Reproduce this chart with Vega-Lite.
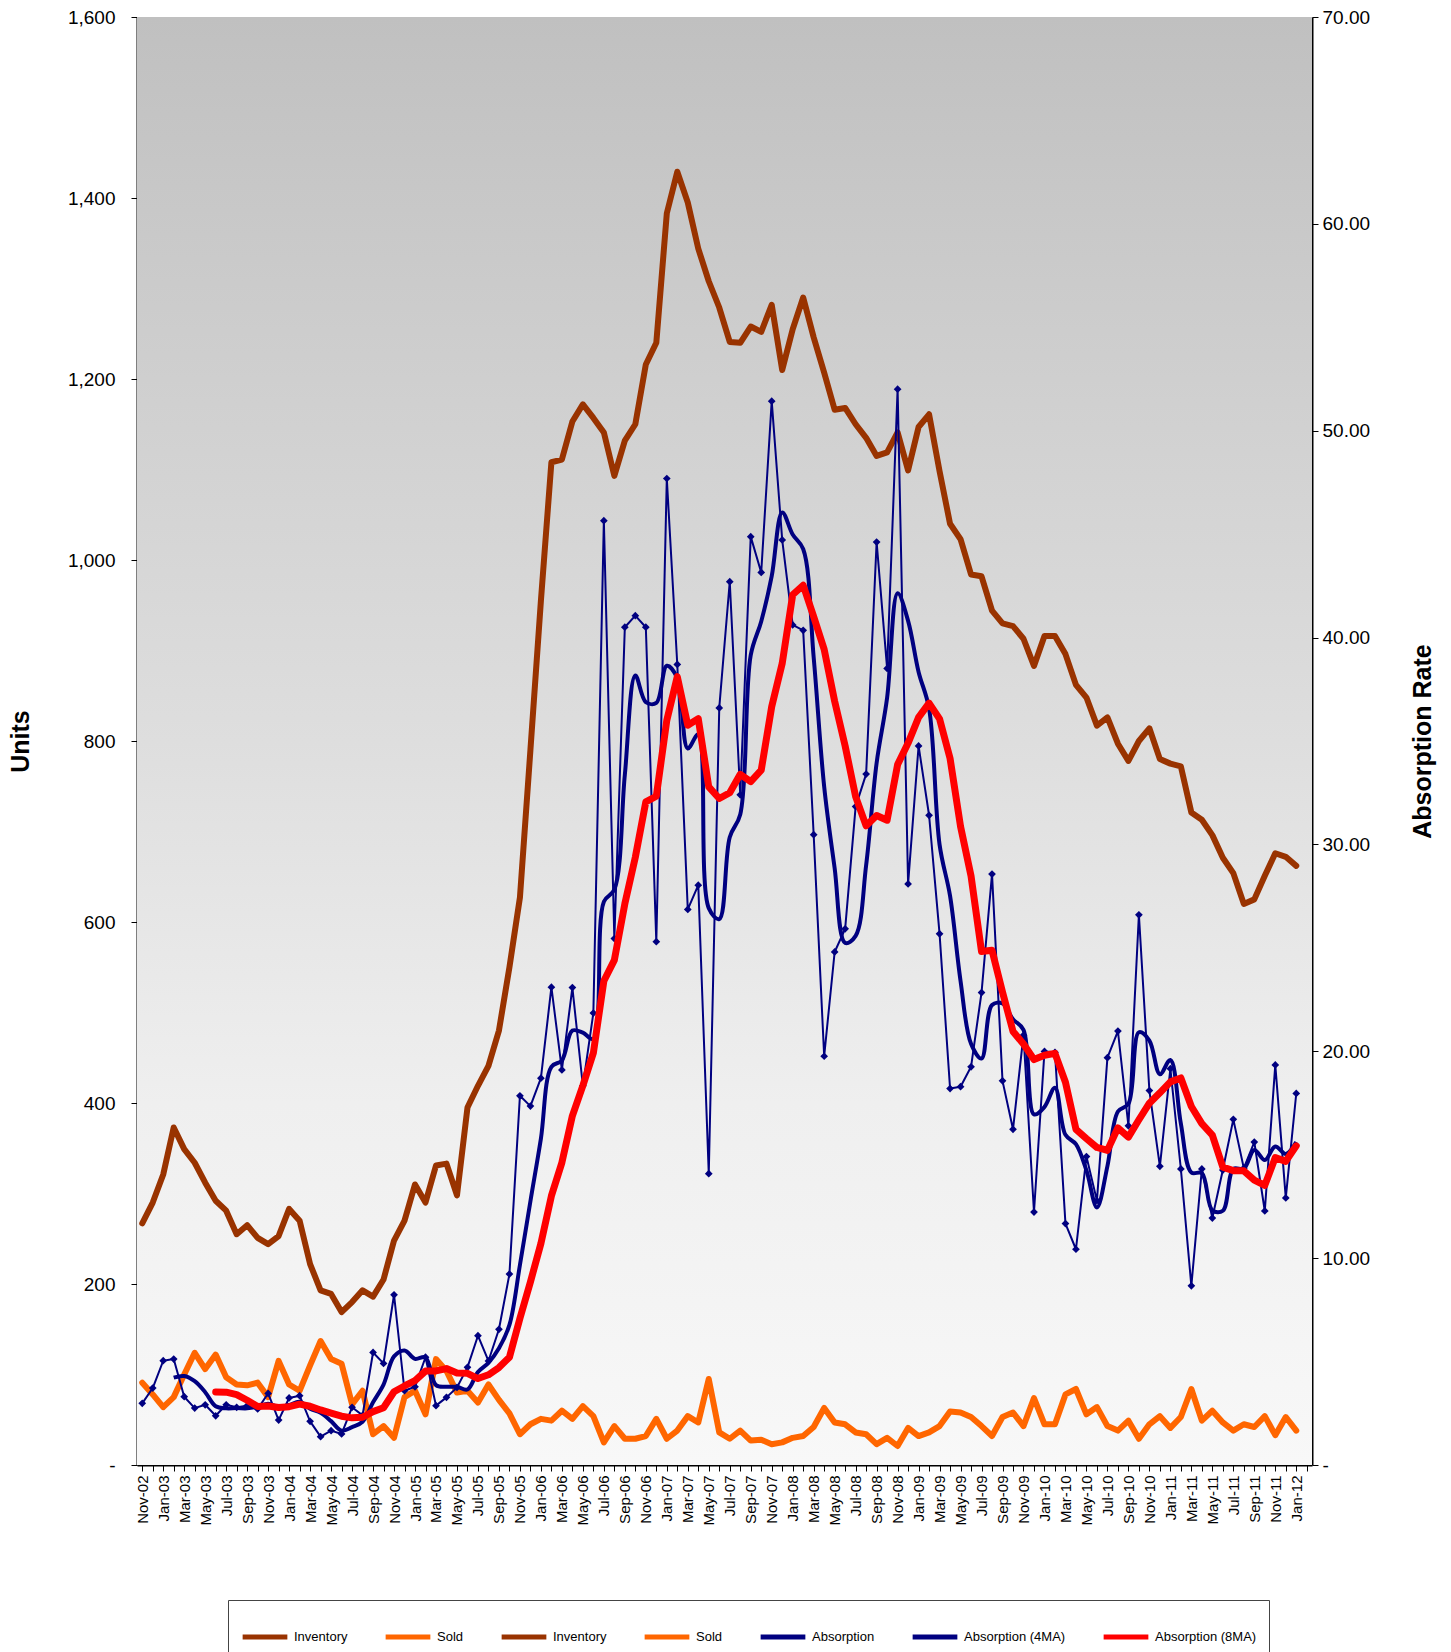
{
"$schema":"https://vega.github.io/schema/vega-lite/v6.json",
"width":1175,"height":1448,
"autosize":{"type":"none"},
"padding":{"left":137,"top":17,"right":139,"bottom":187},
"background":"white",
"config":{"font":"Liberation Sans","view":{"stroke":null},"axis":{"labelColor":"black","titleColor":"black","domainColor":"black","tickColor":"black","grid":false,"labelFont":"Liberation Sans","titleFont":"Liberation Sans"}},
"datasets":{"main":[
{"m":"Nov-02","inv":267,"sold":91,"abs":2.98},
{"m":"Dec-02","inv":290,"sold":78,"abs":3.72},
{"m":"Jan-03","inv":321,"sold":64,"abs":5.04},
{"m":"Feb-03","inv":373,"sold":75,"abs":5.12,"ma4":4.22},
{"m":"Mar-03","inv":349,"sold":100,"abs":3.30,"ma4":4.30},
{"m":"Apr-03","inv":334,"sold":124,"abs":2.75,"ma4":4.05},
{"m":"May-03","inv":312,"sold":106,"abs":2.91,"ma4":3.52},
{"m":"Jun-03","inv":292,"sold":122,"abs":2.38,"ma4":2.84,"ma8":3.53},
{"m":"Jul-03","inv":281,"sold":97,"abs":2.91,"ma4":2.74,"ma8":3.52},
{"m":"Aug-03","inv":255,"sold":89,"abs":2.79,"ma4":2.75,"ma8":3.40},
{"m":"Sep-03","inv":265,"sold":88,"abs":2.87,"ma4":2.74,"ma8":3.13},
{"m":"Oct-03","inv":251,"sold":91,"abs":2.71,"ma4":2.82,"ma8":2.83},
{"m":"Nov-03","inv":244,"sold":75,"abs":3.46,"ma4":2.96,"ma8":2.85},
{"m":"Dec-03","inv":253,"sold":115,"abs":2.17,"ma4":2.80,"ma8":2.78},
{"m":"Jan-04","inv":283,"sold":89,"abs":3.24,"ma4":2.90,"ma8":2.82},
{"m":"Feb-04","inv":270,"sold":82,"abs":3.35,"ma4":3.06,"ma8":2.94},
{"m":"Mar-04","inv":222,"sold":110,"abs":2.11,"ma4":2.72,"ma8":2.84},
{"m":"Apr-04","inv":193,"sold":137,"abs":1.37,"ma4":2.52,"ma8":2.66},
{"m":"May-04","inv":189,"sold":117,"abs":1.66,"ma4":2.12,"ma8":2.51},
{"m":"Jun-04","inv":169,"sold":112,"abs":1.50,"ma4":1.66,"ma8":2.36},
{"m":"Jul-04","inv":180,"sold":67,"abs":2.79,"ma4":1.83,"ma8":2.28},
{"m":"Aug-04","inv":193,"sold":82,"abs":2.40,"ma4":2.09,"ma8":2.31},
{"m":"Sep-04","inv":186,"sold":34,"abs":5.44,"ma4":3.03,"ma8":2.58},
{"m":"Oct-04","inv":205,"sold":43,"abs":4.91,"ma4":3.89,"ma8":2.77},
{"m":"Nov-04","inv":248,"sold":30,"abs":8.23,"ma4":5.25,"ma8":3.54},
{"m":"Dec-04","inv":270,"sold":75,"abs":3.59,"ma4":5.54,"ma8":3.82},
{"m":"Jan-05","inv":310,"sold":82,"abs":3.78,"ma4":5.13,"ma8":4.08},
{"m":"Feb-05","inv":290,"sold":56,"abs":5.21,"ma4":5.20,"ma8":4.54},
{"m":"Mar-05","inv":331,"sold":117,"abs":2.87,"ma4":3.86,"ma8":4.55},
{"m":"Apr-05","inv":333,"sold":104,"abs":3.27,"ma4":3.78,"ma8":4.66},
{"m":"May-05","inv":298,"sold":80,"abs":3.75,"ma4":3.78,"ma8":4.45},
{"m":"Jun-05","inv":395,"sold":82,"abs":4.72,"ma4":3.65,"ma8":4.43},
{"m":"Jul-05","inv":419,"sold":69,"abs":6.25,"ma4":4.50,"ma8":4.18},
{"m":"Aug-05","inv":441,"sold":89,"abs":5.03,"ma4":4.94,"ma8":4.36},
{"m":"Sep-05","inv":480,"sold":72,"abs":6.56,"ma4":5.64,"ma8":4.71},
{"m":"Oct-05","inv":550,"sold":57,"abs":9.23,"ma4":6.77,"ma8":5.21},
{"m":"Nov-05","inv":627,"sold":34,"abs":17.85,"ma4":9.67,"ma8":7.09},
{"m":"Dec-05","inv":790,"sold":45,"abs":17.35,"ma4":12.75,"ma8":8.85},
{"m":"Jan-06","inv":955,"sold":51,"abs":18.70,"ma4":15.78,"ma8":10.71},
{"m":"Feb-06","inv":1108,"sold":49,"abs":23.10,"ma4":19.25,"ma8":13.01},
{"m":"Mar-06","inv":1111,"sold":60,"abs":19.10,"ma4":19.56,"ma8":14.62},
{"m":"Apr-06","inv":1153,"sold":51,"abs":23.08,"ma4":21.00,"ma8":16.88},
{"m":"May-06","inv":1172,"sold":65,"abs":18.33,"ma4":20.90,"ma8":18.34},
{"m":"Jun-06","inv":1157,"sold":54,"abs":21.85,"ma4":20.59,"ma8":19.92},
{"m":"Jul-06","inv":1141,"sold":25,"abs":45.65,"ma4":27.23,"ma8":23.40},
{"m":"Aug-06","inv":1093,"sold":43,"abs":25.45,"ma4":27.82,"ma8":24.41},
{"m":"Sep-06","inv":1132,"sold":29,"abs":40.50,"ma4":33.36,"ma8":27.13},
{"m":"Oct-06","inv":1150,"sold":29,"abs":41.06,"ma4":38.17,"ma8":29.38},
{"m":"Nov-06","inv":1216,"sold":32,"abs":40.50,"ma4":36.88,"ma8":32.06},
{"m":"Dec-06","inv":1240,"sold":51,"abs":25.30,"ma4":36.84,"ma8":32.33},
{"m":"Jan-07","inv":1383,"sold":29,"abs":47.69,"ma4":38.64,"ma8":36.00},
{"m":"Feb-07","inv":1429,"sold":38,"abs":38.70,"ma4":38.05,"ma8":38.11},
{"m":"Mar-07","inv":1395,"sold":54,"abs":26.86,"ma4":34.64,"ma8":35.76},
{"m":"Apr-07","inv":1344,"sold":47,"abs":28.03,"ma4":35.32,"ma8":36.08},
{"m":"May-07","inv":1308,"sold":95,"abs":14.08,"ma4":26.92,"ma8":32.78},
{"m":"Jun-07","inv":1279,"sold":36,"abs":36.60,"ma4":26.39,"ma8":32.22},
{"m":"Jul-07","inv":1241,"sold":29,"abs":42.70,"ma4":30.35,"ma8":32.50},
{"m":"Aug-07","inv":1240,"sold":38,"abs":32.40,"ma4":31.45,"ma8":33.39},
{"m":"Sep-07","inv":1258,"sold":27,"abs":44.88,"ma4":39.15,"ma8":33.04},
{"m":"Oct-07","inv":1252,"sold":28,"abs":43.15,"ma4":40.78,"ma8":33.59},
{"m":"Nov-07","inv":1282,"sold":23,"abs":51.43,"ma4":42.97,"ma8":36.66},
{"m":"Dec-07","inv":1210,"sold":25,"abs":44.72,"ma4":46.05,"ma8":38.75},
{"m":"Jan-08","inv":1255,"sold":30,"abs":40.61,"ma4":44.98,"ma8":42.07},
{"m":"Feb-08","inv":1290,"sold":32,"abs":40.35,"ma4":44.28,"ma8":42.53},
{"m":"Mar-08","inv":1246,"sold":42,"abs":30.47,"ma4":39.04,"ma8":41.01},
{"m":"Apr-08","inv":1207,"sold":63,"abs":19.76,"ma4":32.80,"ma8":39.43},
{"m":"May-08","inv":1166,"sold":47,"abs":24.80,"ma4":28.85,"ma8":36.92},
{"m":"Jun-08","inv":1168,"sold":45,"abs":25.92,"ma4":25.24,"ma8":34.76},
{"m":"Jul-08","inv":1150,"sold":36,"abs":31.83,"ma4":25.58,"ma8":32.31},
{"m":"Aug-08","inv":1135,"sold":34,"abs":33.40,"ma4":28.99,"ma8":30.90},
{"m":"Sep-08","inv":1115,"sold":23,"abs":44.62,"ma4":33.94,"ma8":31.40},
{"m":"Oct-08","inv":1119,"sold":30,"abs":38.51,"ma4":37.09,"ma8":31.17},
{"m":"Nov-08","inv":1141,"sold":21,"abs":52.01,"ma4":42.14,"ma8":33.86},
{"m":"Dec-08","inv":1099,"sold":41,"abs":28.09,"ma4":40.81,"ma8":34.90},
{"m":"Jan-09","inv":1147,"sold":32,"abs":34.76,"ma4":38.34,"ma8":36.14},
{"m":"Feb-09","inv":1161,"sold":36,"abs":31.41,"ma4":36.57,"ma8":36.83},
{"m":"Mar-09","inv":1098,"sold":43,"abs":25.68,"ma4":29.99,"ma8":36.07},
{"m":"Apr-09","inv":1040,"sold":59,"abs":18.20,"ma4":27.51,"ma8":34.16},
{"m":"May-09","inv":1023,"sold":58,"abs":18.29,"ma4":23.40,"ma8":30.87},
{"m":"Jun-09","inv":984,"sold":53,"abs":19.25,"ma4":20.36,"ma8":28.47},
{"m":"Jul-09","inv":982,"sold":43,"abs":22.84,"ma4":19.65,"ma8":24.82},
{"m":"Aug-09","inv":944,"sold":32,"abs":28.57,"ma4":22.24,"ma8":24.88},
{"m":"Sep-09","inv":930,"sold":53,"abs":18.57,"ma4":22.31,"ma8":22.86},
{"m":"Oct-09","inv":927,"sold":58,"abs":16.23,"ma4":21.55,"ma8":20.96},
{"m":"Nov-09","inv":913,"sold":43,"abs":20.78,"ma4":21.04,"ma8":20.35},
{"m":"Dec-09","inv":883,"sold":74,"abs":12.23,"ma4":16.95,"ma8":19.60},
{"m":"Jan-10","inv":916,"sold":45,"abs":19.99,"ma4":17.31,"ma8":19.81},
{"m":"Feb-10","inv":916,"sold":45,"abs":19.95,"ma4":18.24,"ma8":19.90},
{"m":"Mar-10","inv":896,"sold":78,"abs":11.67,"ma4":15.96,"ma8":18.50},
{"m":"Apr-10","inv":862,"sold":84,"abs":10.43,"ma4":15.51,"ma8":16.23},
{"m":"May-10","inv":848,"sold":56,"abs":14.91,"ma4":14.24,"ma8":15.78},
{"m":"Jun-10","inv":817,"sold":64,"abs":12.78,"ma4":12.45,"ma8":15.35},
{"m":"Jul-10","inv":826,"sold":43,"abs":19.69,"ma4":14.45,"ma8":15.21},
{"m":"Aug-10","inv":797,"sold":38,"abs":20.98,"ma4":17.09,"ma8":16.30},
{"m":"Sep-10","inv":778,"sold":49,"abs":16.40,"ma4":17.46,"ma8":15.85},
{"m":"Oct-10","inv":800,"sold":29,"abs":26.60,"ma4":20.92,"ma8":16.69},
{"m":"Nov-10","inv":814,"sold":45,"abs":18.10,"ma4":20.52,"ma8":17.49},
{"m":"Dec-10","inv":780,"sold":54,"abs":14.44,"ma4":18.89,"ma8":17.99},
{"m":"Jan-11","inv":775,"sold":41,"abs":19.16,"ma4":19.58,"ma8":18.52},
{"m":"Feb-11","inv":772,"sold":53,"abs":14.31,"ma4":16.50,"ma8":18.71},
{"m":"Mar-11","inv":721,"sold":84,"abs":8.66,"ma4":14.14,"ma8":17.33},
{"m":"Apr-11","inv":713,"sold":49,"abs":14.31,"ma4":14.11,"ma8":16.50},
{"m":"May-11","inv":696,"sold":60,"abs":11.94,"ma4":12.31,"ma8":15.95},
{"m":"Jun-11","inv":671,"sold":47,"abs":14.26,"ma4":12.29,"ma8":14.40},
{"m":"Jul-11","inv":654,"sold":38,"abs":16.71,"ma4":14.31,"ma8":14.23},
{"m":"Aug-11","inv":620,"sold":45,"abs":14.35,"ma4":14.32,"ma8":14.22},
{"m":"Sep-11","inv":625,"sold":42,"abs":15.61,"ma4":15.23,"ma8":13.77},
{"m":"Oct-11","inv":651,"sold":54,"abs":12.28,"ma4":14.74,"ma8":13.52},
{"m":"Nov-11","inv":676,"sold":33,"abs":19.34,"ma4":15.40,"ma8":14.86},
{"m":"Dec-11","inv":672,"sold":53,"abs":12.91,"ma4":15.04,"ma8":14.68},
{"m":"Jan-12","inv":662,"sold":38,"abs":17.96,"ma4":15.62,"ma8":15.43}
]},
"layer":[
{"data":{"values":[{}]},
 "mark":{"type":"rect","fill":{"gradient":"linear","x1":0,"y1":0,"x2":0,"y2":1,"stops":[{"offset":0,"color":"#c0c0c0"},{"offset":0.5,"color":"#dedede"},{"offset":0.75,"color":"#efefef"},{"offset":1,"color":"#f8f8f8"}]}},
 "encoding":{"y":{"datum":1600,"type":"quantitative","scale":{"domain":[0,1600]},"axis":null},"y2":{"datum":0}}},
{"data":{"name":"main"},
 "encoding":{"x":{"field":"m","type":"ordinal","sort":null,
   "scale":{"type":"point","padding":0.5,"domain":["Nov-02","Dec-02","Jan-03","Feb-03","Mar-03","Apr-03","May-03","Jun-03","Jul-03","Aug-03","Sep-03","Oct-03","Nov-03","Dec-03","Jan-04","Feb-04","Mar-04","Apr-04","May-04","Jun-04","Jul-04","Aug-04","Sep-04","Oct-04","Nov-04","Dec-04","Jan-05","Feb-05","Mar-05","Apr-05","May-05","Jun-05","Jul-05","Aug-05","Sep-05","Oct-05","Nov-05","Dec-05","Jan-06","Feb-06","Mar-06","Apr-06","May-06","Jun-06","Jul-06","Aug-06","Sep-06","Oct-06","Nov-06","Dec-06","Jan-07","Feb-07","Mar-07","Apr-07","May-07","Jun-07","Jul-07","Aug-07","Sep-07","Oct-07","Nov-07","Dec-07","Jan-08","Feb-08","Mar-08","Apr-08","May-08","Jun-08","Jul-08","Aug-08","Sep-08","Oct-08","Nov-08","Dec-08","Jan-09","Feb-09","Mar-09","Apr-09","May-09","Jun-09","Jul-09","Aug-09","Sep-09","Oct-09","Nov-09","Dec-09","Jan-10","Feb-10","Mar-10","Apr-10","May-10","Jun-10","Jul-10","Aug-10","Sep-10","Oct-10","Nov-10","Dec-10","Jan-11","Feb-11","Mar-11","Apr-11","May-11","Jun-11","Jul-11","Aug-11","Sep-11","Oct-11","Nov-11","Dec-11","Jan-12","Feb-12"]},
   "axis":{"title":null,"labelAngle":-90,"labelFontSize":15,"labelExpr":"indexof(['Nov','Jan','Mar','May','Jul','Sep'], slice(datum.label,0,3)) >= 0 ? datum.label : ''","tickSize":6,"domainWidth":2,"labelPadding":4,"labelOverlap":false,"labelBound":false}}},
 "layer":[
  {"mark":{"type":"line","strokeWidth":6,"strokeJoin":"round","strokeCap":"round"},
   "encoding":{"y":{"field":"inv","type":"quantitative","scale":{"domain":[0,1600]},
      "axis":{"orient":"left","title":"Units","titleFontSize":25,"titleFontWeight":"bold","titlePadding":34,"labelFontSize":19,"values":[0,200,400,600,800,1000,1200,1400,1600],"labelExpr":"datum.value == 0 ? '-' : format(datum.value, ',')","tickSize":6,"labelPadding":16,"domainWidth":2}},
    "color":{"datum":"Inventory","type":"nominal",
      "scale":{"domain":["Inventory","Sold","Inventory ","Sold ","Absorption","Absorption (4MA)","Absorption (8MA)"],"range":["#993300","#ff6600","#993300","#ff6600","#000080","#000080","#ff0000"]},
      "legend":{"title":null,"orient":"none","legendX":91,"legendY":1583,"direction":"horizontal","symbolType":"stroke","symbolSize":2000,"symbolStrokeWidth":5,"labelFontSize":13,"labelFont":"Liberation Sans","labelColor":"black","labelOffset":4,"columnPadding":27,"padding":12,"strokeColor":"#444444","fillColor":"white","labelLimit":300}}}},
  {"mark":{"type":"line","strokeWidth":6,"strokeJoin":"round","strokeCap":"round"},
   "encoding":{"y":{"field":"sold","type":"quantitative"},"color":{"datum":"Sold","type":"nominal"}}}
 ]},
{"data":{"name":"main"},
 "encoding":{"x":{"field":"m","type":"ordinal","sort":null,
   "scale":{"type":"point","padding":0.5,"domain":["Nov-02","Dec-02","Jan-03","Feb-03","Mar-03","Apr-03","May-03","Jun-03","Jul-03","Aug-03","Sep-03","Oct-03","Nov-03","Dec-03","Jan-04","Feb-04","Mar-04","Apr-04","May-04","Jun-04","Jul-04","Aug-04","Sep-04","Oct-04","Nov-04","Dec-04","Jan-05","Feb-05","Mar-05","Apr-05","May-05","Jun-05","Jul-05","Aug-05","Sep-05","Oct-05","Nov-05","Dec-05","Jan-06","Feb-06","Mar-06","Apr-06","May-06","Jun-06","Jul-06","Aug-06","Sep-06","Oct-06","Nov-06","Dec-06","Jan-07","Feb-07","Mar-07","Apr-07","May-07","Jun-07","Jul-07","Aug-07","Sep-07","Oct-07","Nov-07","Dec-07","Jan-08","Feb-08","Mar-08","Apr-08","May-08","Jun-08","Jul-08","Aug-08","Sep-08","Oct-08","Nov-08","Dec-08","Jan-09","Feb-09","Mar-09","Apr-09","May-09","Jun-09","Jul-09","Aug-09","Sep-09","Oct-09","Nov-09","Dec-09","Jan-10","Feb-10","Mar-10","Apr-10","May-10","Jun-10","Jul-10","Aug-10","Sep-10","Oct-10","Nov-10","Dec-10","Jan-11","Feb-11","Mar-11","Apr-11","May-11","Jun-11","Jul-11","Aug-11","Sep-11","Oct-11","Nov-11","Dec-11","Jan-12","Feb-12"]}}},
 "layer":[
  {"mark":{"type":"line","strokeWidth":2,"strokeJoin":"round"},
   "encoding":{"y":{"field":"abs","type":"quantitative","scale":{"domain":[0,70]},
      "axis":{"orient":"right","title":"Absorption Rate","titleAngle":270,"titleFontSize":25,"titleFontWeight":"bold","titlePadding":66,"labelFontSize":19,"values":[0,10,20,30,40,50,60,70],"labelExpr":"datum.value == 0 ? '-' : format(datum.value, '.2f')","tickSize":6,"labelPadding":4,"domainWidth":2}},
    "color":{"datum":"Absorption","type":"nominal"}}},
  {"mark":{"type":"point","shape":"diamond","filled":true,"size":60,"color":"#000080","opacity":1},
   "encoding":{"y":{"field":"abs","type":"quantitative"}}},
  {"mark":{"type":"line","strokeWidth":4,"interpolate":"catmull-rom","strokeJoin":"round"},
   "encoding":{"y":{"field":"ma4","type":"quantitative"},"color":{"datum":"Absorption (4MA)","type":"nominal"}}},
  {"mark":{"type":"line","strokeWidth":7,"strokeJoin":"round","strokeCap":"round"},
   "encoding":{"y":{"field":"ma8","type":"quantitative"},"color":{"datum":"Absorption (8MA)","type":"nominal"}}}
 ]}
],
"resolve":{"scale":{"y":"independent"}}
}
